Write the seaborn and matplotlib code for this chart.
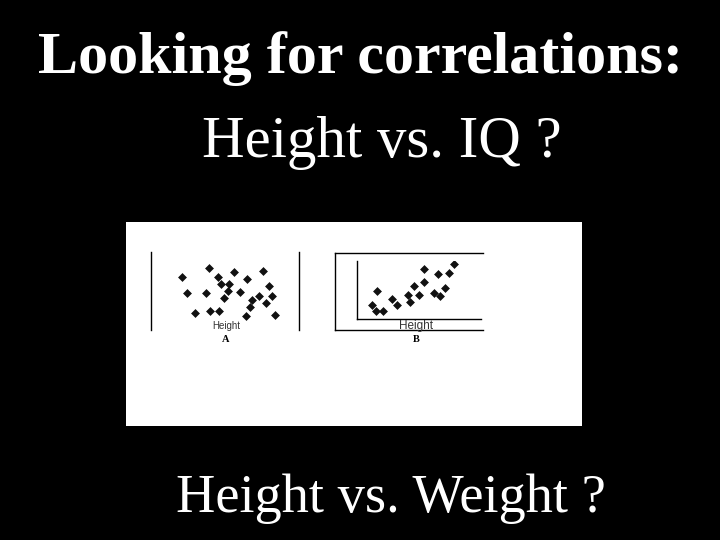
import matplotlib
matplotlib.use("Agg")
import matplotlib.pyplot as plt
import seaborn as sns
import pandas as pd

sns.set_theme(style="white")
plt.rcParams['font.family'] = ['Liberation Serif', 'DejaVu Serif']

# Slide texts
title = "Looking for correlations:"
subtitle1 = "Height vs. IQ ?"
subtitle2 = "Height vs. Weight ?"

# Panel A: Height vs IQ (no correlation), arbitrary units 0-100
height_a = [21, 39, 45, 56, 76, 65, 47, 53, 80, 24, 37, 52, 60, 49, 68, 73, 82, 78, 67, 30, 40, 46, 64, 84]
iq_a     = [68, 80, 68, 75, 76, 65, 59, 59, 56, 47, 48, 50, 49, 41, 39, 43, 44, 35, 29, 22, 25, 25, 18, 19]

# Panel B: Height vs Weight (positive correlation), arbitrary units 0-100
height_b = [16, 12, 15, 21, 28, 32, 41, 43, 46, 50, 54, 54, 62, 67, 65, 71, 74, 78]
weight_b = [48, 25, 13, 13, 35, 24, 42, 29, 57, 41, 86, 63, 45, 40, 78, 53, 79, 94]

panel_labels = ["A", "B"]
axis_label = "Height"

W, H = 720, 540
fig = plt.figure(figsize=(7.2, 5.4), dpi=100, facecolor="black")

def fx(px):
    return px / W

def fy(py):
    return 1 - py / H

def rect(x0, y0, x1, y1):
    return [fx(x0), fy(y1), fx(x1) - fx(x0), fy(y0) - fy(y1)]

# Texts
fig.text(fx(38), fy(73), title, color="white", fontsize=43.3, fontweight="bold",
         ha="left", va="baseline")
fig.text(fx(201.5), fy(157), subtitle1, color="white", fontsize=42.4,
         ha="left", va="baseline")
fig.text(fx(176.5), fy(512.5), subtitle2, color="white", fontsize=39.2,
         ha="left", va="baseline")

# White picture box
bg = fig.add_axes(rect(126, 222, 582, 426))
bg.set_facecolor("white")
bg.set_xticks([]); bg.set_yticks([])
for s in bg.spines.values():
    s.set_visible(False)

mk = dict(marker="D", s=16, color="#111111", edgecolor="#111111", linewidth=0.5, legend=False)

# Panel A
axA = fig.add_axes(rect(151, 252, 299, 330))
axA.set_facecolor("none")
dfA = pd.DataFrame({"Height": height_a, "IQ": iq_a})
sns.scatterplot(data=dfA, x="Height", y="IQ", ax=axA, **mk)
axA.set_xlim(0, 100); axA.set_ylim(0, 100)
axA.set_xticks([]); axA.set_yticks([])
axA.set_xlabel(""); axA.set_ylabel("")
for k in ["top", "bottom"]:
    axA.spines[k].set_visible(False)
for k in ["left", "right"]:
    axA.spines[k].set_visible(True)
    axA.spines[k].set_color("black")
    axA.spines[k].set_linewidth(1.0)
fig.text(fx(226), fy(326), axis_label, fontsize=7, family=["Liberation Sans"],
         ha="center", va="center", color="#333333")
fig.text(fx(226), fy(339), panel_labels[0], fontsize=7.5, fontweight="bold",
         ha="center", va="center", color="black")

# Panel B outer frame
axBo = fig.add_axes(rect(335, 253, 483, 330))
axBo.set_facecolor("none")
axBo.set_xticks([]); axBo.set_yticks([])
axBo.spines["right"].set_visible(False)
for k in ["top", "bottom", "left"]:
    axBo.spines[k].set_visible(True)
    axBo.spines[k].set_color("black")
    axBo.spines[k].set_linewidth(1.0)

# Panel B inner axes
axB = fig.add_axes(rect(357, 261, 481, 319))
axB.set_facecolor("none")
dfB = pd.DataFrame({"Height": height_b, "Weight": weight_b})
sns.scatterplot(data=dfB, x="Height", y="Weight", ax=axB, **mk)
axB.set_xlim(0, 100); axB.set_ylim(0, 100)
axB.set_xticks([]); axB.set_yticks([])
axB.set_xlabel(""); axB.set_ylabel("")
for k in ["top", "right"]:
    axB.spines[k].set_visible(False)
for k in ["left", "bottom"]:
    axB.spines[k].set_visible(True)
    axB.spines[k].set_color("black")
    axB.spines[k].set_linewidth(1.0)
fig.text(fx(416), fy(326), axis_label, fontsize=8.5, family=["Liberation Sans"],
         ha="center", va="center", color="#333333")
fig.text(fx(416), fy(339), panel_labels[1], fontsize=7.5, fontweight="bold",
         ha="center", va="center", color="black")

fig.savefig("out.png", dpi=100, facecolor="black")
